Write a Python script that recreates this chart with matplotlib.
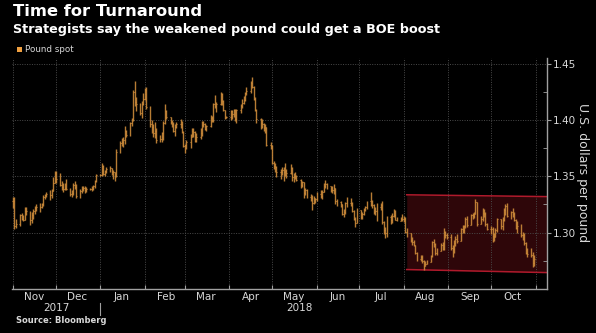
import numpy as np
import pandas as pd
import matplotlib
matplotlib.use("Agg")
import matplotlib.pyplot as plt
import matplotlib.dates as mdates
import matplotlib.transforms as mtransforms
from matplotlib.patches import Rectangle

# GBP/USD daily bars, one row per month (Nov 2017 .. Oct 2018)
close = [
    1.3280, 1.3060, 1.3075, 1.3155, 1.3125, 1.3115, 1.3190, 1.3190, 1.3110, 1.3155, 1.3195, 1.3215, 1.3225, 1.3225, 1.3255, 1.3320, 1.3335, 1.3340, 1.3330, 1.3370, 1.3440, 1.3525,
    1.3480, 1.3420, 1.3405, 1.3390, 1.3400, 1.3385, 1.3345, 1.3355, 1.3420, 1.3405, 1.3325, 1.3370, 1.3385, 1.3395, 1.3375, 1.3385, 1.3390, 1.3390, 1.3410, 1.3455, 1.3510,
    1.3510, 1.3590, 1.3520, 1.3550, 1.3565, 1.3570, 1.3540, 1.3535, 1.3505, 1.3715, 1.3795, 1.3805, 1.3825, 1.3905, 1.3865, 1.3975, 1.4000, 1.4245, 1.4160, 1.4145, 1.4060, 1.4140, 1.4190,
    1.4265, 1.4115, 1.3965, 1.3935, 1.3880, 1.3905, 1.3825, 1.3835, 1.3880, 1.3970, 1.4080, 1.4025, 1.3985, 1.3965, 1.3905, 1.3935, 1.3965, 1.3960, 1.3895, 1.3765,
    1.3775, 1.3800, 1.3850, 1.3905, 1.3890, 1.3815, 1.3850, 1.3880, 1.3955, 1.3965, 1.3920, 1.3945, 1.4020, 1.4000, 1.4140, 1.4125, 1.4140, 1.4230, 1.4165, 1.4090, 1.4020, 1.4025,
    1.4075, 1.4050, 1.4085, 1.4010, 1.4085, 1.4120, 1.4150, 1.4180, 1.4240, 1.4255, 1.4330, 1.4295, 1.4190, 1.4085, 1.4005, 1.3975, 1.3960, 1.3925, 1.3935, 1.3775, 1.3765,
    1.3615, 1.3590, 1.3585, 1.3535, 1.3535, 1.3555, 1.3535, 1.3550, 1.3530, 1.3570, 1.3490, 1.3505, 1.3505, 1.3465, 1.3425, 1.3450, 1.3350, 1.3375, 1.3315, 1.3310, 1.3265, 1.3305, 1.3295,
    1.3340, 1.3325, 1.3365, 1.3410, 1.3435, 1.3410, 1.3375, 1.3375, 1.3395, 1.3280, 1.3275, 1.3250, 1.3170, 1.3180, 1.3260, 1.3260, 1.3260, 1.3195, 1.3120, 1.3090, 1.3200,
    1.3135, 1.3170, 1.3205, 1.3230, 1.3280, 1.3245, 1.3245, 1.3185, 1.3195, 1.3225, 1.3245, 1.3095, 1.3020, 1.3000, 1.3140, 1.3115, 1.3145, 1.3160, 1.3115, 1.3105, 1.3125, 1.3125,
    1.3125, 1.3005, 1.2995, 1.2935, 1.2915, 1.2890, 1.2820, 1.2765, 1.2780, 1.2750, 1.2705, 1.2725, 1.2740, 1.2795, 1.2920, 1.2900, 1.2820, 1.2840, 1.2890, 1.2855, 1.3005, 1.2975, 1.2960,
    1.2860, 1.2855, 1.2910, 1.2945, 1.2925, 1.3035, 1.3025, 1.3055, 1.3120, 1.3070, 1.3160, 1.3145, 1.3170, 1.3270, 1.3075, 1.3120, 1.3175, 1.3170, 1.3080, 1.3035,
    1.3035, 1.2970, 1.2960, 1.3025, 1.3120, 1.3060, 1.3110, 1.3200, 1.3240, 1.3150, 1.3180, 1.3170, 1.3115, 1.3040, 1.3060, 1.2975, 1.2980, 1.2910, 1.2820, 1.2815, 1.2800, 1.2730, 1.2765,
]
high = [
    1.3320, 1.3320, 1.3125, 1.3165, 1.3175, 1.3160, 1.3225, 1.3225, 1.3195, 1.3180, 1.3210, 1.3240, 1.3250, 1.3260, 1.3265, 1.3335, 1.3345, 1.3365, 1.3375, 1.3385, 1.3490, 1.3545,
    1.3550, 1.3530, 1.3455, 1.3445, 1.3445, 1.3480, 1.3400, 1.3380, 1.3445, 1.3455, 1.3430, 1.3390, 1.3415, 1.3415, 1.3410, 1.3405, 1.3395, 1.3410, 1.3425, 1.3465, 1.3520,
    1.3520, 1.3615, 1.3600, 1.3560, 1.3585, 1.3590, 1.3570, 1.3560, 1.3540, 1.3745, 1.3810, 1.3840, 1.3845, 1.3945, 1.3910, 1.3985, 1.4020, 1.4265, 1.4345, 1.4200, 1.4150, 1.4170, 1.4235,
    1.4280, 1.4295, 1.4125, 1.4000, 1.3960, 1.3985, 1.3930, 1.3870, 1.3895, 1.3990, 1.4145, 1.4090, 1.4020, 1.4000, 1.3985, 1.3965, 1.3985, 1.4010, 1.3990, 1.3905,
    1.3790, 1.3825, 1.3875, 1.3930, 1.3930, 1.3905, 1.3880, 1.3930, 1.3990, 1.3990, 1.3970, 1.3955, 1.4045, 1.4035, 1.4150, 1.4220, 1.4160, 1.4245, 1.4240, 1.4175, 1.4090, 1.4035,
    1.4085, 1.4090, 1.4100, 1.4100, 1.4095, 1.4140, 1.4190, 1.4210, 1.4245, 1.4290, 1.4345, 1.4380, 1.4300, 1.4200, 1.4095, 1.4015, 1.4010, 1.3975, 1.3960, 1.3940, 1.3800,
    1.3775, 1.3635, 1.3620, 1.3595, 1.3565, 1.3580, 1.3585, 1.3615, 1.3565, 1.3610, 1.3580, 1.3525, 1.3535, 1.3515, 1.3480, 1.3455, 1.3440, 1.3395, 1.3385, 1.3345, 1.3330, 1.3325, 1.3310,
    1.3365, 1.3375, 1.3375, 1.3445, 1.3470, 1.3445, 1.3415, 1.3410, 1.3430, 1.3400, 1.3300, 1.3285, 1.3255, 1.3210, 1.3275, 1.3315, 1.3310, 1.3275, 1.3200, 1.3140, 1.3215,
    1.3200, 1.3185, 1.3215, 1.3240, 1.3285, 1.3360, 1.3290, 1.3250, 1.3225, 1.3260, 1.3260, 1.3285, 1.3105, 1.3050, 1.3150, 1.3160, 1.3175, 1.3210, 1.3205, 1.3140, 1.3135, 1.3170,
    1.3145, 1.3135, 1.3045, 1.2995, 1.2960, 1.2935, 1.2890, 1.2830, 1.2805, 1.2800, 1.2760, 1.2750, 1.2760, 1.2800, 1.2925, 1.2945, 1.2905, 1.2860, 1.2905, 1.2920, 1.3045, 1.3015, 1.3000,
    1.2990, 1.2890, 1.2935, 1.2970, 1.2985, 1.3045, 1.3065, 1.3070, 1.3140, 1.3145, 1.3165, 1.3175, 1.3180, 1.3300, 1.3260, 1.3145, 1.3215, 1.3210, 1.3180, 1.3090,
    1.3055, 1.3050, 1.3000, 1.3045, 1.3130, 1.3120, 1.3135, 1.3220, 1.3255, 1.3260, 1.3195, 1.3215, 1.3185, 1.3120, 1.3100, 1.3080, 1.3005, 1.3000, 1.2920, 1.2865, 1.2865, 1.2825, 1.2800,
]
low = [
    1.3215, 1.3030, 1.3040, 1.3060, 1.3110, 1.3105, 1.3110, 1.3155, 1.3070, 1.3090, 1.3125, 1.3170, 1.3195, 1.3180, 1.3215, 1.3240, 1.3300, 1.3320, 1.3290, 1.3305, 1.3370, 1.3440,
    1.3440, 1.3410, 1.3380, 1.3365, 1.3380, 1.3375, 1.3325, 1.3320, 1.3330, 1.3390, 1.3305, 1.3310, 1.3350, 1.3370, 1.3350, 1.3365, 1.3375, 1.3370, 1.3375, 1.3400, 1.3450,
    1.3505, 1.3505, 1.3515, 1.3500, 1.3530, 1.3540, 1.3510, 1.3475, 1.3460, 1.3490, 1.3710, 1.3765, 1.3760, 1.3790, 1.3850, 1.3860, 1.3945, 1.3990, 1.4120, 1.4080, 1.4040, 1.4015, 1.4135,
    1.4180, 1.4100, 1.3940, 1.3880, 1.3845, 1.3840, 1.3795, 1.3805, 1.3805, 1.3825, 1.3965, 1.4005, 1.3965, 1.3935, 1.3890, 1.3855, 1.3925, 1.3930, 1.3880, 1.3760,
    1.3710, 1.3740, 1.3750, 1.3845, 1.3850, 1.3800, 1.3805, 1.3835, 1.3860, 1.3935, 1.3910, 1.3900, 1.3940, 1.3985, 1.3985, 1.4110, 1.4070, 1.4130, 1.4135, 1.4080, 1.4010, 1.4015,
    1.4000, 1.4005, 1.4025, 1.3990, 1.3970, 1.4065, 1.4110, 1.4145, 1.4170, 1.4225, 1.4240, 1.4280, 1.4175, 1.4075, 1.3975, 1.3920, 1.3925, 1.3900, 1.3880, 1.3765, 1.3740,
    1.3605, 1.3565, 1.3540, 1.3490, 1.3480, 1.3515, 1.3460, 1.3505, 1.3485, 1.3520, 1.3455, 1.3450, 1.3480, 1.3455, 1.3395, 1.3405, 1.3305, 1.3330, 1.3305, 1.3280, 1.3205, 1.3250, 1.3265,
    1.3285, 1.3305, 1.3300, 1.3360, 1.3395, 1.3390, 1.3365, 1.3350, 1.3340, 1.3255, 1.3240, 1.3230, 1.3160, 1.3135, 1.3165, 1.3225, 1.3240, 1.3180, 1.3110, 1.3050, 1.3085,
    1.3125, 1.3120, 1.3155, 1.3190, 1.3210, 1.3240, 1.3220, 1.3170, 1.3160, 1.3105, 1.3205, 1.3080, 1.2990, 1.2955, 1.2965, 1.3080, 1.3085, 1.3135, 1.3110, 1.3100, 1.3100, 1.3105,
    1.3095, 1.3000, 1.2960, 1.2920, 1.2890, 1.2880, 1.2815, 1.2750, 1.2750, 1.2730, 1.2665, 1.2700, 1.2720, 1.2740, 1.2785, 1.2870, 1.2805, 1.2800, 1.2835, 1.2845, 1.2850, 1.2955, 1.2940,
    1.2850, 1.2785, 1.2820, 1.2885, 1.2905, 1.2925, 1.3000, 1.2995, 1.3045, 1.3050, 1.3065, 1.3125, 1.3130, 1.3165, 1.3060, 1.3075, 1.3100, 1.3140, 1.3060, 1.3020,
    1.2985, 1.2920, 1.2925, 1.2960, 1.3005, 1.3030, 1.3025, 1.3100, 1.3160, 1.3135, 1.3125, 1.3135, 1.3105, 1.3030, 1.3000, 1.2965, 1.2935, 1.2890, 1.2810, 1.2780, 1.2780, 1.2695, 1.2700,
]

months = ["Nov", "Dec", "Jan", "Feb", "Mar", "Apr", "May", "Jun", "Jul", "Aug", "Sep", "Oct"]
years = ["2017", "2018"]
y_ticks = [1.30, 1.35, 1.40, 1.45]

# downward channel drawn over Aug-Oct
channel_x = ["2018-08-03", "2018-11-09"]
channel_top = [1.3336, 1.3320]
channel_bottom = [1.2673, 1.2646]

dates = pd.bdate_range("2017-11-01", "2018-10-31")
x = mdates.date2num(dates)
close = np.array(close)
high = np.array(high)
low = np.array(low)
opn = np.r_[close[0], close[:-1]]

bar_color = "#cc8a3a"
grid_color = "#4a4a4a"
axis_color = "#a0a0a0"
text_color = "#d8d8d8"

fig = plt.figure(figsize=(5.96, 3.33), dpi=100, facecolor="black")
ax = fig.add_axes([0.0195, 0.132, 0.8983, 0.694], facecolor="black")

# channel
cx = mdates.date2num(pd.to_datetime(channel_x))
ax.fill_between(cx, channel_bottom, channel_top, color="#2e0609", lw=0, zorder=1)
ax.plot(cx, channel_top, color="#b01a2c", lw=1.1, zorder=2)
ax.plot(cx, channel_bottom, color="#b01a2c", lw=1.1, zorder=2)

# OHLC bars
ax.vlines(x, np.minimum(low, opn), np.maximum(high, opn), color=bar_color, lw=1.0, alpha=0.9, zorder=3)
ax.hlines(opn, x - 0.5, x, color=bar_color, lw=0.8, alpha=0.9, zorder=3)
ax.hlines(close, x, x + 0.5, color=bar_color, lw=0.8, alpha=0.9, zorder=3)

ax.set_xlim(mdates.date2num(pd.Timestamp("2017-10-31")), cx[1])
ax.set_ylim(1.25, 1.455)

# x axis: gridlines at month starts, labels mid-month
month_starts = pd.date_range("2017-11-01", "2018-11-01", freq="MS")
mid_months = pd.date_range("2017-11-01", "2018-10-01", freq="MS") + pd.Timedelta(days=15)
ax.set_xticks(mdates.date2num(month_starts))
ax.set_xticklabels([])
ax.set_xticks(mdates.date2num(mid_months), minor=True)
ax.set_xticklabels(months, minor=True)
ax.tick_params(axis="x", which="major", direction="in", length=3, color=axis_color)
ax.tick_params(axis="x", which="minor", length=0, pad=2, labelsize=7.5, labelcolor=text_color)
ax.grid(axis="x", which="major", color=grid_color, lw=0.7, ls=(0, (1, 1.5)))

# y axis on the right
ax.yaxis.tick_right()
ax.set_yticks(y_ticks)
ax.set_yticklabels(["%.2f" % v for v in y_ticks])
ax.set_yticks([1.275, 1.325, 1.375, 1.425], minor=True)
ax.tick_params(axis="y", which="major", direction="out", length=3, pad=1.5, color=axis_color,
               labelsize=7.5, labelcolor=text_color)
ax.tick_params(axis="y", which="minor", direction="in", length=3, color=axis_color)
ax.grid(axis="y", which="major", color=grid_color, lw=0.7, ls=(0, (1, 1.5)))

for side in ["left", "top"]:
    ax.spines[side].set_visible(False)
for side in ["right", "bottom"]:
    ax.spines[side].set_color(axis_color)
    ax.spines[side].set_linewidth(1.0)

# year row under the month labels
trans = mtransforms.blended_transform_factory(ax.transData, ax.transAxes)
year_pos = [pd.Timestamp("2017-12-01"), pd.Timestamp("2018-05-20")]
for pos, label in zip(year_pos, years):
    ax.text(mdates.date2num(pos), -0.082, label, transform=trans, ha="center", va="center",
            fontsize=7.5, color=text_color)
jan = mdates.date2num(pd.Timestamp("2018-01-01"))
ax.plot([jan, jan], [-0.06, -0.113], transform=trans, color=axis_color, lw=0.8, clip_on=False)

fig.text(583 / 596, 1 - 173 / 333, "U.S. dollars per pound", rotation=270, ha="center", va="center",
         fontsize=9, color=text_color)

fig.text(13 / 596, 1 - 12 / 333, "Time for Turnaround", fontsize=11.8, fontweight="bold",
         color="white", va="center", ha="left")
fig.text(13 / 596, 1 - 29 / 333, "Strategists say the weakened pound could get a BOE boost",
         fontsize=9.2, fontweight="bold", color="white", va="center", ha="left")

fig.patches.append(Rectangle((17 / 596, 1 - 52 / 333), 5 / 596, 5 / 333, transform=fig.transFigure,
                             facecolor="#f0a040", edgecolor="none"))
fig.text(25 / 596, 1 - 49.5 / 333, "Pound spot", fontsize=6.3, color=text_color, va="center", ha="left")

fig.text(16 / 596, 1 - 320.5 / 333, "Source: Bloomberg", fontsize=6, fontweight="bold",
         color=text_color, va="center", ha="left")

fig.savefig("out.png", dpi=100, facecolor="black")
